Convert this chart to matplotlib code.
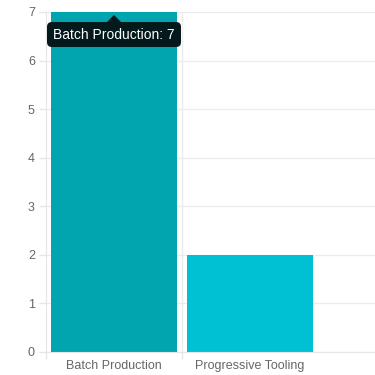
import matplotlib
matplotlib.use("Agg")
import matplotlib.pyplot as plt
from matplotlib.patches import FancyBboxPatch, Polygon

plt.rcParams["font.family"] = ["Liberation Sans", "DejaVu Sans"]

categories = ["Batch Production", "Progressive Tooling"]
values = [7, 2]
colors = ["#00A5B0", "#00C1D3"]
yticks = [0, 1, 2, 3, 4, 5, 6, 7]
tooltip_text = "Batch Production: 7"

fig = plt.figure(figsize=(3.75, 3.75), dpi=100)
ax = fig.add_axes([46/375, 23/375, 329/375, 340/375])

x = list(range(len(categories)))
ax.bar(x, values, width=126/136, color=colors, zorder=2)

ax.set_xlim(-0.5, -0.5 + 329/136)
ax.set_ylim(0, 7)
ax.set_yticks(yticks)
ax.set_yticklabels([str(t) for t in yticks])
ax.set_xticks(x)
ax.set_xticklabels(categories)
ax.tick_params(axis="both", colors="#e6e6e6", labelcolor="#666666", labelsize=9, length=5, width=1)
ax.tick_params(axis="x", pad=6)
ax.tick_params(axis="y", pad=3)
ax.set_xticks([-0.5, 0.5], minor=True)
ax.tick_params(axis="x", which="minor", length=5, colors="#e6e6e6", width=1)
ax.tick_params(axis="x", which="major", length=0)

ax.grid(axis="y", color="#ececec", linewidth=1, zorder=0)
ax.axvline(0.5, color="#ececec", linewidth=1, zorder=0)
for s in ["top", "right"]:
    ax.spines[s].set_visible(False)
ax.spines["left"].set_color("#e6e6e6")
ax.spines["bottom"].set_color("#e6e6e6")

# tooltip
bx0, by0, bw, bh = 47/375, 1 - 47/375, 134/375, 25/375
box = FancyBboxPatch((bx0, by0), bw, bh, boxstyle="round,pad=0,rounding_size=0.013",
                     transform=fig.transFigure, facecolor="#03191c", edgecolor="none", zorder=10)
fig.patches.append(box)
cx = 114/375
tri = Polygon([(cx - 7/375, 1 - 22/375), (cx + 7/375, 1 - 22/375), (cx, 1 - 15/375)],
              closed=True, transform=fig.transFigure, facecolor="#03191c", edgecolor="none", zorder=10)
fig.patches.append(tri)
fig.text(cx, 1 - 35/375, tooltip_text, color="white", fontsize=10, ha="center", va="center", zorder=11)

fig.savefig("out.png", dpi=100)
